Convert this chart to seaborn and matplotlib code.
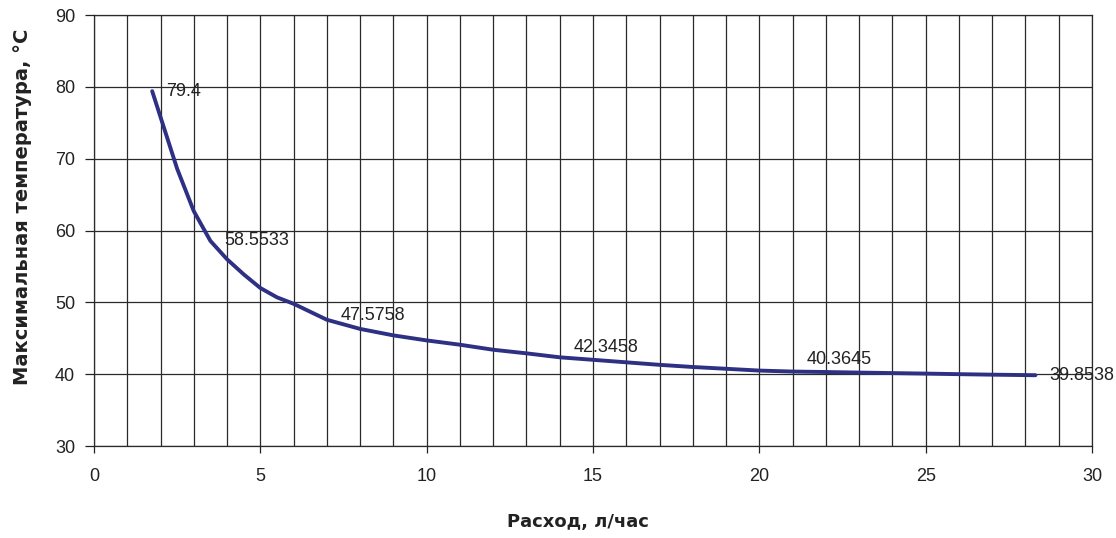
import numpy as np
import pandas as pd
import matplotlib
matplotlib.use("Agg")
import matplotlib.pyplot as plt
import seaborn as sns

# Werte
flow = [1.75, 2.0, 2.5, 3.0, 3.5, 4.0, 4.5, 5.0, 5.5, 6.0, 7.0, 8.0, 9.0, 10.0,
        11.0, 12.0, 13.0, 14.0, 15.0, 16.0, 17.0, 18.0, 19.0, 20.0, 21.0,
        22.0, 23.0, 24.0, 25.0, 26.0, 27.0, 28.3]
temp = [79.4, 75.8, 68.6, 62.7, 58.5533, 56.0, 53.9, 52.0, 50.7, 49.8, 47.5758,
        46.3, 45.4, 44.7, 44.1, 43.4, 42.9, 42.3458, 42.0, 41.65, 41.3, 41.0,
        40.75, 40.5, 40.3645, 40.3, 40.22, 40.15, 40.08, 40.0, 39.93, 39.8538]

label_x = [1.75, 3.5, 7.0, 14.0, 21.0, 28.3]
label_y = [79.4, 58.5533, 47.5758, 42.3458, 40.3645, 39.8538]
label_txt = ["79.4", "58.5533", "47.5758", "42.3458", "40.3645", "39.8538"]
label_dy = [0, 0, 4, 10, 12, 0]   # Pixel nach oben

df = pd.DataFrame({"flow": flow, "temp": temp})

sns.set_style("white")
plt.rcParams["font.family"] = ["Liberation Sans", "DejaVu Sans"]

fig = plt.figure(figsize=(11.16, 5.38), dpi=100)
ax = fig.add_axes([0.0842, 0.171, 0.8943, 0.8011])

sns.lineplot(data=df, x="flow", y="temp", ax=ax, color="#2e3084", linewidth=2.8)

ax.set_xlim(0, 30)
ax.set_ylim(30, 90)
ax.set_xticks(np.arange(0, 31, 5))
ax.set_xticks(np.arange(0, 31, 1), minor=True)
ax.set_yticks(np.arange(30, 91, 10))
ax.grid(True, which="both", axis="x", color="#2a2a2a", linewidth=0.9)
ax.grid(True, which="major", axis="y", color="#2a2a2a", linewidth=0.9)
ax.set_axisbelow(True)

for s in ax.spines.values():
    s.set_color("#2a2a2a")
    s.set_linewidth(0.9)

ax.tick_params(axis="both", which="major", labelsize=13, colors="#222222",
               width=0.9, direction="out", bottom=True, left=True)
ax.tick_params(axis="x", which="major", length=5, pad=11)
ax.tick_params(axis="y", which="major", length=6.5, pad=7)
ax.tick_params(axis="x", which="minor", length=0)

for x, y, t, dy in zip(label_x, label_y, label_txt, label_dy):
    ax.annotate(t, (x, y), xytext=(10, dy * 0.72), textcoords="offset points",
                ha="left", va="center", fontsize=13, color="#222222")

ax.set_xlabel("Расход, л/час", fontsize=13, fontweight="bold", color="#222222",
              family=["DejaVu Sans"], va="center")
ax.set_ylabel("Максимальная температура, °С", fontsize=14, fontweight="bold",
              color="#222222", family=["DejaVu Sans"], va="center")
ax.xaxis.set_label_coords(0.485, -0.176)
ax.yaxis.set_label_coords(-0.072, 0.555)

fig.savefig("out.png", dpi=100)
